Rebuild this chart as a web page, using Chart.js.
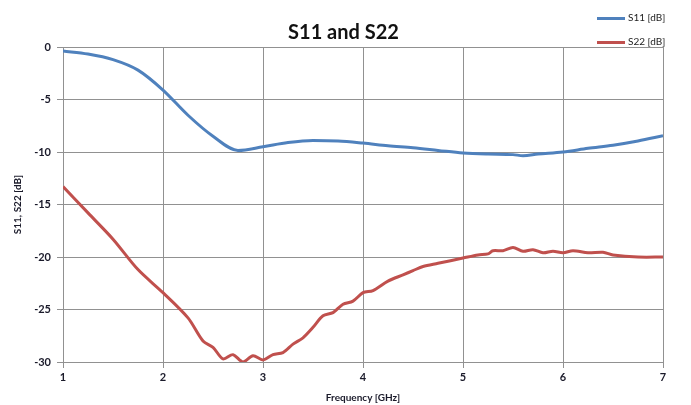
<!DOCTYPE html>
<html lang="en">
<head>
    <meta charset="UTF-8">
    <title>S11 and S22</title>
    <script src="https://cdn.jsdelivr.net/npm/chart.js@4.4.0/dist/chart.umd.min.js"></script>
    <style>
        body {
            margin: 0;
            background: #ffffff;
            font-family: Lato, "Open Sans", sans-serif;
        }
        .wrap {
            position: relative;
            width: 691px;
            height: 405px;
        }
        .title {
            position: absolute;
            left: 0;
            width: 687px;
            top: 19px;
            text-align: center;
            font-weight: bold;
            font-size: 20px;
            color: #111;
        }
        .legend {
            position: absolute;
            left: 597px;
            font-size: 10px;
            color: #222;
            line-height: 12px;
        }
        .legend span.swatch {
            display: inline-block;
            width: 28px;
            height: 3px;
            vertical-align: middle;
            margin-right: 3px;
        }
    </style>
</head>
<body>
<div class="wrap">
    <canvas id="chart" width="691" height="405"></canvas>
    <div class="title">S11 and S22</div>
    <div class="legend" style="top:11px"><span class="swatch" style="background:#4f81bd"></span>S11 [dB]</div>
    <div class="legend" style="top:35px"><span class="swatch" style="background:#c0504d"></span>S22 [dB]</div>
</div>

<script>
    // Data
    var freqS11 = [1, 1.25, 1.5, 1.75, 2, 2.25, 2.5, 2.75, 3, 3.25, 3.5, 3.75, 4, 4.25, 4.5, 4.75,
                   5, 5.25, 5.5, 5.6, 5.75, 6, 6.25, 6.5, 6.75, 7];
    var s11 = [-0.38, -0.67, -1.2, -2.2, -4.1, -6.5, -8.5, -9.85, -9.5, -9.1, -8.9, -8.95, -9.15, -9.4, -9.6, -9.85,
               -10.1, -10.2, -10.25, -10.35, -10.2, -10.0, -9.65, -9.35, -8.95, -8.45];

    var freqS22 = [1, 1.25, 1.5, 1.75, 2, 2.25, 2.4, 2.5, 2.6, 2.7, 2.8, 2.9, 3.0, 3.1, 3.2, 3.3, 3.4, 3.5,
                   3.6, 3.7, 3.8, 3.9, 4.0, 4.1, 4.25, 4.4, 4.5, 4.6, 4.75, 5.0, 5.15, 5.25, 5.3, 5.4, 5.5,
                   5.6, 5.7, 5.8, 5.9, 6.0, 6.1, 6.25, 6.4, 6.5, 6.75, 7.0];
    var s22 = [-13.3, -15.8, -18.3, -21.2, -23.4, -25.8, -28.0, -28.6, -29.7, -29.3, -30.0, -29.4, -29.8, -29.3, -29.1, -28.3, -27.7, -26.7,
               -25.6, -25.3, -24.5, -24.2, -23.4, -23.2, -22.3, -21.7, -21.3, -20.9, -20.6, -20.1, -19.8, -19.7, -19.4, -19.4, -19.1,
               -19.45, -19.3, -19.6, -19.45, -19.6, -19.4, -19.6, -19.55, -19.8, -20.0, -20.0];

    var yTicks = [0, -5, -10, -15, -20, -25, -30];
    var xTicks = [1, 2, 3, 4, 5, 6, 7];

    function toPoints(xs, ys) {
        return xs.map(function (x, i) { return { x: x, y: ys[i] }; });
    }

    var tickFont = { family: 'Lato, "Open Sans", sans-serif', size: 11, weight: 'bold' };
    var titleFont = { family: 'Lato, "Open Sans", sans-serif', size: 10, weight: 'bold' };

    var ctx = document.getElementById('chart').getContext('2d');
    var chart = new Chart(ctx, {
        type: 'line',
        data: {
            datasets: [{
                label: 'S11 [dB]',
                data: toPoints(freqS11, s11),
                borderColor: '#4f81bd',
                borderWidth: 3,
                pointRadius: 0,
                tension: 0.4,
                cubicInterpolationMode: 'monotone'
            }, {
                label: 'S22 [dB]',
                data: toPoints(freqS22, s22),
                borderColor: '#c0504d',
                borderWidth: 3,
                pointRadius: 0,
                tension: 0.3
            }]
        },
        options: {
            responsive: false,
            animation: false,
            layout: { padding: { top: 47, right: 28, left: 0, bottom: 0 } },
            plugins: {
                legend: { display: false },
                title: { display: false },
                tooltip: { enabled: false }
            },
            scales: {
                x: {
                    type: 'linear',
                    min: 1,
                    max: 7,
                    afterBuildTicks: function (scale) {
                        scale.ticks = xTicks.map(function (v) { return { value: v }; });
                    },
                    afterFit: function (scale) { scale.height = 43; },
                    grid: { color: '#919191', lineWidth: 1, tickLength: 6 },
                    border: { color: '#919191', width: 1 },
                    ticks: { font: tickFont, color: '#1a1a2a', padding: 3, maxRotation: 0 },
                    title: { display: true, text: 'Frequency [GHz]', font: titleFont, color: '#1a1a2a', padding: { top: 0, bottom: 1 } }
                },
                y: {
                    min: -30,
                    max: 0,
                    afterBuildTicks: function (scale) {
                        scale.ticks = yTicks.map(function (v) { return { value: v }; });
                    },
                    afterFit: function (scale) { scale.width = 63; },
                    grid: { color: '#919191', lineWidth: 1, tickLength: 6 },
                    border: { color: '#919191', width: 1 },
                    ticks: { font: tickFont, color: '#1a1a2a', padding: 6 },
                    title: { display: true, text: 'S11, S22 [dB]', font: titleFont, color: '#1a1a2a', padding: { top: 12, bottom: 0 } }
                }
            }
        }
    });
</script>
</body>
</html>
